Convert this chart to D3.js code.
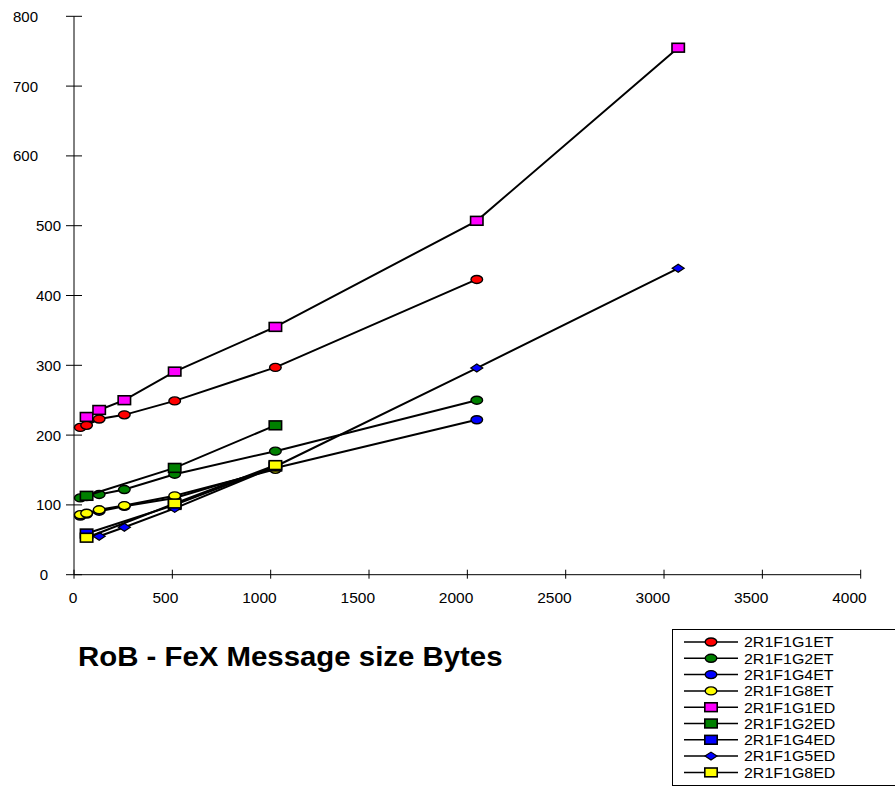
<!DOCTYPE html>
<html>
<head>
<meta charset="utf-8">
<script src="https://cdn.jsdelivr.net/npm/d3@7"></script>
<style>
  html, body { margin: 0; padding: 0; background: #fff; }
  svg { display: block; font-family: Arial, "Liberation Sans", sans-serif; }
</style>
</head>
<body>
<svg id="chart" width="895" height="787"></svg>
<script>
// Message sizes (bytes) and measured values per configuration
const sizesT = [32, 64, 128, 256, 512, 1024, 2048];
const sizesD = [64, 128, 256, 512, 1024, 2048, 3072];
const sizesShort = [64, 512, 1024];
const sizesG5 = [128, 256, 512, 1024, 2048, 3072];

const g1ET = [211, 214, 223, 229, 249, 297, 423];
const g2ET = [110, 112, 115, 122, 144, 177, 250];
const g4ET = [84, 87, 91, 98, 110, 153, 222];
const g8ET = [86, 88, 93, 99, 113, 151];
const g1ED = [226, 236, 250, 291, 355, 507, 755];
const g2ED = [113, 153, 214];
const g4ED = [59, 100, 155];
const g5ED = [55, 68, 95, 155, 296, 439];
const g8ED = [53, 102, 157];

const xTicks = [0, 500, 1000, 1500, 2000, 2500, 3000, 3500, 4000];
const yTicks = [0, 100, 200, 300, 400, 500, 600, 700, 800];

const seriesNames = ["2R1F1G1ET", "2R1F1G2ET", "2R1F1G4ET", "2R1F1G8ET",
                     "2R1F1G1ED", "2R1F1G2ED", "2R1F1G4ED", "2R1F1G5ED", "2R1F1G8ED"];
const seriesX = [sizesT, sizesT, sizesT, sizesT.slice(0, 6),
                 sizesD, sizesShort, sizesShort, sizesG5, sizesShort];
const seriesY = [g1ET, g2ET, g4ET, g8ET, g1ED, g2ED, g4ED, g5ED, g8ED];
const seriesFill = ["#ff0000", "#008000", "#0000ff", "#ffff00",
                    "#ff00ff", "#008000", "#0000ff", "#0000ff", "#ffff00"];
const seriesShape = ["circle", "circle", "circle", "circle",
                     "square", "square", "square", "diamond", "square"];

const titleText = "RoB - FeX Message size Bytes";

const svg = d3.select("#chart");
const x = d3.scaleLinear().domain([0, 4000]).range([74, 860.7]);
const y = d3.scaleLinear().domain([0, 800]).range([574.7, 16.3]);

// axes: ticks cross the axis line
const axisG = svg.append("g");
axisG.append("line").attr("x1", x(0)).attr("x2", x(4000)).attr("y1", y(0)).attr("y2", y(0))
  .attr("stroke", "#000").attr("stroke-width", 1);
axisG.append("line").attr("x1", x(0)).attr("x2", x(0)).attr("y1", y(0)).attr("y2", y(800))
  .attr("stroke", "#000").attr("stroke-width", 1);

axisG.selectAll(".xt").data(xTicks).join("line")
  .attr("x1", d => x(d)).attr("x2", d => x(d))
  .attr("y1", y(0) - 5).attr("y2", y(0) + 4)
  .attr("stroke", "#000");
axisG.selectAll(".xl").data(xTicks).join("text")
  .attr("x", d => d === 0 ? x(d) - 1 : x(d) + 6).attr("y", 603)
  .attr("text-anchor", d => d === 0 ? "middle" : "end").attr("font-size", 15.5)
  .text(d => d);

// value labels sit at three different offsets from the axis
function yLabelRight(d) {
  if (d === 0) return 48;
  if (d >= 600) return 38;
  return 61;
}
axisG.selectAll(".yt").data(yTicks).join("line")
  .attr("x1", x(0) - 8).attr("x2", x(0) + 8)
  .attr("y1", d => y(d)).attr("y2", d => y(d))
  .attr("stroke", "#000");
axisG.selectAll(".yl").data(yTicks).join("text")
  .attr("x", yLabelRight).attr("y", d => y(d) + 5.4)
  .attr("text-anchor", "end").attr("font-size", 15)
  .text(d => d);

// marker drawing helper
function drawMarker(sel, shape, fill, cx, cy, s) {
  if (shape === "circle") {
    sel.append("ellipse").attr("cx", cx).attr("cy", cy)
      .attr("rx", 5.8 * s).attr("ry", 4.0 * s)
      .attr("fill", fill).attr("stroke", "#000").attr("stroke-width", 1.4);
  } else if (shape === "square") {
    sel.append("rect").attr("x", cx - 6.2 * s).attr("y", cy - 4.4 * s)
      .attr("width", 12.4 * s).attr("height", 8.8 * s)
      .attr("fill", fill).attr("stroke", "#000").attr("stroke-width", 1.6);
  } else {
    const w = 6 * s, h = 4 * s;
    sel.append("path")
      .attr("d", `M${cx - w},${cy}L${cx},${cy - h}L${cx + w},${cy}L${cx},${cy + h}Z`)
      .attr("fill", fill).attr("stroke", "#000").attr("stroke-width", 1.2);
  }
}

const line = d3.line().x(d => x(d[0])).y(d => y(d[1]));
const plot = svg.append("g");
seriesNames.forEach((name, i) => {
  const pts = seriesX[i].map((v, k) => [v, seriesY[i][k]]);
  const g = plot.append("g").attr("class", "series");
  g.append("path").datum(pts).attr("d", line)
    .attr("fill", "none").attr("stroke", "#000").attr("stroke-width", 2);
  pts.forEach(p => drawMarker(g, seriesShape[i], seriesFill[i], x(p[0]), y(p[1]), 1));
});

// title (slightly wide lettering)
svg.append("text")
  .attr("transform", "translate(78,666) scale(1.05,1)")
  .attr("font-size", 28).attr("font-weight", "bold")
  .text(titleText);

// legend
const leg = svg.append("g");
leg.append("rect").attr("x", 672.5).attr("y", 629.5).attr("width", 240).attr("height", 156)
  .attr("fill", "#fff").attr("stroke", "#000").attr("stroke-width", 1);
seriesNames.forEach((name, i) => {
  const cy = 642 + i * 16.3;
  leg.append("line").attr("x1", 684).attr("x2", 738).attr("y1", cy).attr("y2", cy)
    .attr("stroke", "#000").attr("stroke-width", 1.5);
  drawMarker(leg, seriesShape[i], seriesFill[i], 711, cy, 1);
  leg.append("text")
    .attr("transform", `translate(744,${cy + 5.3}) scale(1.05,1)`)
    .attr("font-size", 15.2).text(name);
});
</script>
</body>
</html>
